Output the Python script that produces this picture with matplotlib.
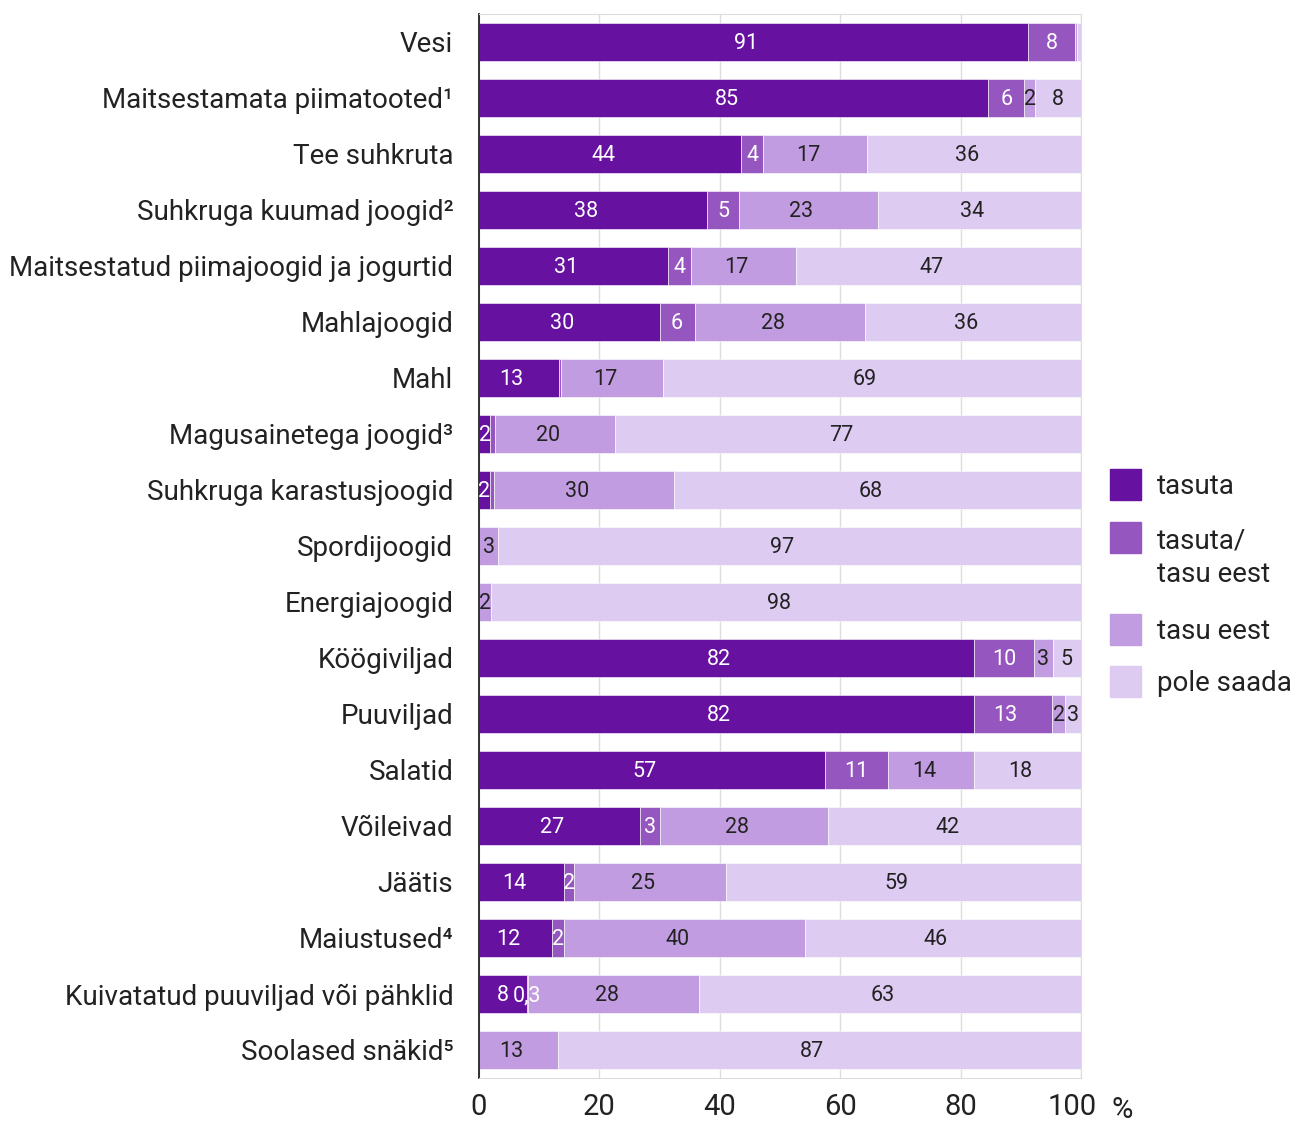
import numpy as np
import matplotlib.pyplot as plt
import matplotlib.transforms as mtransforms
from matplotlib.patches import Rectangle

plt.rcParams['font.family'] = ['Roboto', 'DejaVu Sans']

categories = [
    'Vesi',
    'Maitsestamata piimatooted¹',
    'Tee suhkruta',
    'Suhkruga kuumad joogid²',
    'Maitsestatud piimajoogid ja jogurtid',
    'Mahlajoogid',
    'Mahl',
    'Magusainetega joogid³',
    'Suhkruga karastusjoogid',
    'Spordijoogid',
    'Energiajoogid',
    'Köögiviljad',
    'Puuviljad',
    'Salatid',
    'Võileivad',
    'Jäätis',
    'Maiustused⁴',
    'Kuivatatud puuviljad või pähklid',
    'Soolased snäkid⁵',
]

# shares in %, per category
tasuta = [91.2, 84.6, 43.6, 37.9, 31.4, 30.0, 13.3, 1.9, 1.8, 0, 0,
          82.2, 82.2, 57.4, 26.8, 14.2, 12.1, 7.9, 0]
tasuta_tasu = [7.8, 6.0, 3.6, 5.3, 3.8, 5.8, 0.4, 0.7, 0.7, 0, 0,
               10.0, 13.0, 10.6, 3.2, 1.6, 2.0, 0.3, 0]
tasu_eest = [0.3, 1.7, 17.3, 23.1, 17.4, 28.4, 16.9, 20.0, 29.9, 3.2, 2.0,
             3.1, 2.2, 14.2, 28.0, 25.2, 40.1, 28.4, 13.1]
pole_saada = [0.7, 7.7, 35.5, 33.7, 47.4, 35.8, 69.4, 77.4, 67.6, 96.8, 98.0,
              4.7, 2.6, 17.8, 42.0, 59.0, 45.8, 63.4, 86.9]

series_names = ['tasuta', 'tasuta/\ntasu eest', 'tasu eest', 'pole saada']
colors = ['#66119f', '#9556c0', '#c29ce0', '#ddcbf2']
text_colors = ['white', 'white', '#222222', '#222222']

# segments under 1% get no label, except this one
extra_labels = {('Kuivatatud puuviljad või pähklid', 1)}


def fmt(v):
    if v >= 1:
        return f'{round(v)}'
    return f'{v:.1f}'.replace('.', ',')


fig = plt.figure(figsize=(12.9, 11.22), dpi=100)
ax = fig.add_axes([479 / 1290, 1 - 1078 / 1122, 602 / 1290, 1064 / 1122])

y = np.arange(len(categories))
left = np.zeros(len(categories))
for k, (vals, color, tc) in enumerate(zip([tasuta, tasuta_tasu, tasu_eest, pole_saada],
                                          colors, text_colors)):
    vals = np.array(vals, dtype=float)
    ax.barh(y, vals, left=left, height=0.68, color=color,
            edgecolor='white', linewidth=0.4, zorder=2)
    for i, (l, v) in enumerate(zip(left, vals)):
        if v >= 1 or (categories[i], k) in extra_labels:
            # wider segments keep their label a little left of centre
            xpos = l + v / 2 - (1.2 if v >= 12 else 0)
            ax.text(xpos, i + 0.03, fmt(v), ha='center', va='center',
                    color=tc, fontsize=15.5, zorder=3)
    left += vals

ax.set_xlim(0, 100)
ax.set_ylim(len(categories) - 0.5, -0.5)
ax.set_xticks(range(0, 101, 20))
ax.set_yticks(y)
ax.set_yticklabels(categories)
ax.tick_params(axis='x', length=0, pad=11, labelsize=21, colors='#222222')
ax.tick_params(axis='y', length=0, pad=18.5, labelsize=20, colors='#222222')
ax.xaxis.grid(True, color='#dddddd', linewidth=1)
ax.set_axisbelow(True)
for side in ['top', 'right', 'bottom']:
    ax.spines[side].set_color('#dddddd')
ax.spines['left'].set_color('#222222')
ax.spines['left'].set_linewidth(1.3)

# pull "100" a bit left to leave room for the unit sign
last = ax.get_xticklabels()[-1]
last.set_transform(last.get_transform() +
                   mtransforms.ScaledTranslation(-9 / 100, 0, fig.dpi_scale_trans))
fig.text(1122 / 1290, 1 - 1110 / 1122, '%', ha='center', va='center',
         fontsize=21, color='#222222')

# legend boxes on the right
box_tops = [469, 522, 614, 666]
for name, color, top in zip(series_names, colors, box_tops):
    fig.add_artist(Rectangle((1110 / 1290, 1 - (top + 31) / 1122), 31 / 1290, 31 / 1122,
                             transform=fig.transFigure, color=color))
    n_extra = name.count('\n')
    fig.text(1157 / 1290, 1 - (top + 25 + 35 * n_extra) / 1122, name,
             ha='left', va='baseline', fontsize=20, color='#222222', linespacing=1.3)

fig.savefig('out.png', dpi=100)
